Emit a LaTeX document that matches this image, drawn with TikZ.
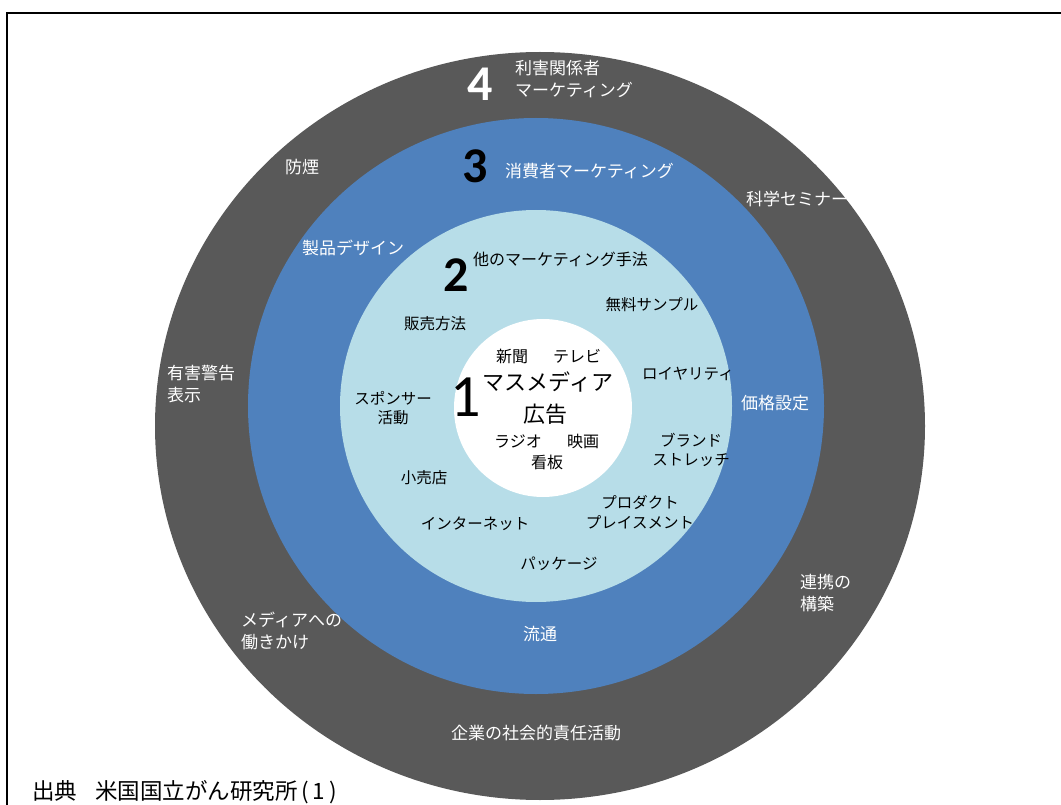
\documentclass[tikz,border=0pt]{standalone}
\usepackage{fontspec}
\setmainfont{Noto Sans CJK JP}
\newfontfamily\numfont{Carlito}
\definecolor{ringfour}{RGB}{89,89,89}
\definecolor{ringthree}{RGB}{79,129,189}
\definecolor{ringtwo}{RGB}{183,221,232}
\tikzset{
  outlab/.style={inner sep=0pt, text=white, font=\fontsize{17}{22}\selectfont},
  inlab/.style={inner sep=0pt, text=black, align=center, font=\fontsize{15.5}{19.5}\selectfont},
  corelab/.style={inner sep=0pt, text=black, font=\fontsize{16}{20}\selectfont},
  corebig/.style={inner sep=0pt, text=black, font=\fontsize{22}{26}\selectfont},
  bignum/.style={inner sep=0pt, font=\numfont\bfseries\fontsize{50}{50}\selectfont}
}
\begin{document}
\begin{tikzpicture}[x=1pt,y=-1pt]
\useasboundingbox (0,0) rectangle (1061,805);
\fill[white] (0,0) rectangle (1061,805);
\draw[line width=2pt] (7,806) -- (7,13) -- (1062,13);
% rings
\fill[ringfour] (540,426) ellipse [x radius=385pt, y radius=374pt];
\fill[ringthree] (536,406) circle [radius=288pt];
\fill[ringtwo] (536,406) circle [radius=196pt];
\fill[white] (543,408) circle [radius=89pt];
% ring 4
\node[bignum, text=white] (n4) at (480,84) {4};
\node[outlab, anchor=west, align=left] (t4) at (515,79) {利害関係者\\マーケティング};
\node[outlab] (a1) at (302,167) {防煙};
\node[outlab] (a2) at (797,199) {科学セミナー};
\node[outlab, anchor=west, align=left] (a3) at (167,384) {有害警告\\表示};
\node[outlab, anchor=west, align=left] (a4) at (800,593) {連携の\\構築};
\node[outlab, anchor=west, align=left] (a5) at (241,631) {メディアへの\\働きかけ};
\node[outlab] (a6) at (536,733) {企業の社会的責任活動};
% ring 3
\node[bignum, text=black] (n3) at (475,166) {3};
\node[outlab, anchor=west] (t3) at (505,171) {消費者マーケティング};
\node[outlab] (b1) at (353,248) {製品デザイン};
\node[outlab] (b2) at (775,403) {価格設定};
\node[outlab] (b3) at (540,634) {流通};
% ring 2
\node[bignum, text=black] (n2) at (456,275) {2};
\node[inlab, anchor=west, font=\fontsize{16}{20}\selectfont] (t2) at (473,259) {他のマーケティング手法};
\node[inlab] (c1) at (435,324) {販売方法};
\node[inlab] (c2) at (652,305) {無料サンプル};
\node[inlab] (c3) at (688,374) {ロイヤリティ};
\node[inlab] (c4) at (691,450) {ブランド\\ストレッチ};
\node[inlab] (c5) at (640,512) {プロダクト\\プレイスメント};
\node[inlab] (c6) at (559,564) {パッケージ};
\node[inlab] (c7) at (475,524) {インターネット};
\node[inlab] (c8) at (424,478) {小売店};
\node[inlab] (c9) at (393,408) {スポンサー\\活動};
% core
\node[inner sep=0pt, font=\numfont\fontsize{60}{60}\selectfont] (n1) at (466,397) {1};
\node[corelab] (d1) at (512,356) {新聞};
\node[corelab] (d2) at (577,356) {テレビ};
\node[corebig] (d3) at (548,382) {マスメディア};
\node[corebig] (d4) at (545,414) {広告};
\node[corelab] (d5) at (518,441) {ラジオ};
\node[corelab] (d6) at (583,441) {映画};
\node[corelab] (d7) at (547,462) {看板};
% footer
\node[inner sep=0pt, anchor=west, font=\fontsize{22.5}{26}\selectfont] (src) at (32,792) {出典\hspace{18pt}米国国立がん研究所\,(\,1\,)};
\end{tikzpicture}
\end{document}
